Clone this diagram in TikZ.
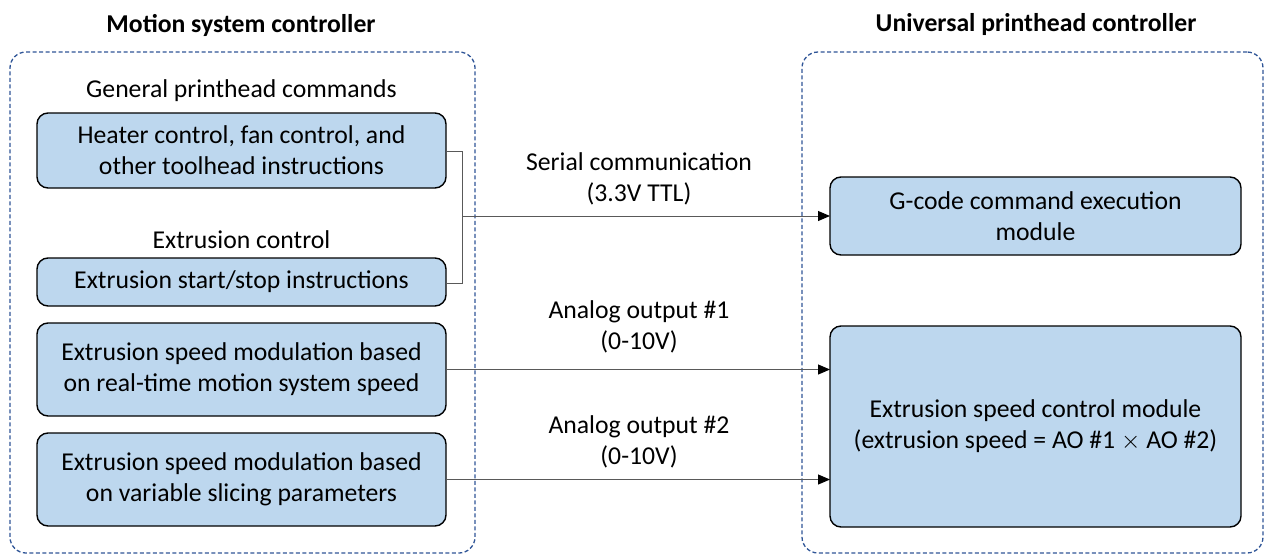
\documentclass[tikz,border=0pt]{standalone}
\usepackage{fontspec}
\setmainfont{Carlito}
\usetikzlibrary{arrows.meta}
\definecolor{boxfill}{HTML}{BDD7EE}
\definecolor{dashblue}{HTML}{2F5597}
\definecolor{linegray}{HTML}{595959}
\tikzset{
  every node/.style={font=\fontsize{25.7}{31}\selectfont, inner sep=0pt, outer sep=0pt},
  blockbox/.style={draw=black, line width=1.4pt, fill=boxfill, rounded corners=11pt, align=center},
  group/.style={draw=dashblue, line width=1.3pt, dash pattern=on 4pt off 2.5pt, rounded corners=16pt},
  conn/.style={draw=linegray, line width=1pt},
  arr/.style={conn, -{Triangle[length=12pt,width=10pt,color=black]}},
  lbl/.style={align=center},
  ttl/.style={font=\fontsize{25.7}{31}\selectfont\bfseries}
}
\begin{document}
\begin{tikzpicture}[x=1pt,y=-1pt]
\useasboundingbox (0,0) rectangle (1265,554);
% groups
\node[group, minimum width=465pt, minimum height=501pt] (msc) at (242.5,302.5) {};
\node[group, minimum width=461pt, minimum height=501pt] (upc) at (1032.5,302.5) {};
\node[ttl] (msct) at (241,25) {Motion system controller};
\node[ttl] (upct) at (1036,25) {Universal printhead controller};
% left blocks
\node[lbl] (genl) at (241.5,91) {General printhead commands};
\node[blockbox, minimum width=409pt, minimum height=75pt] (heat) at (241.5,150.5) {Heater control, fan control, and\\other toolhead instructions};
\node[lbl] (extl) at (241.5,240) {Extrusion control};
\node[blockbox, minimum width=409pt, minimum height=48pt] (ess) at (241.5,282) {Extrusion start/stop instructions};
\node[blockbox, minimum width=409pt, minimum height=93pt] (esm1) at (241.5,369.5) {Extrusion speed modulation based\\on real-time motion system speed};
\node[blockbox, minimum width=409pt, minimum height=93pt] (esm2) at (241.5,479.5) {Extrusion speed modulation based\\on variable slicing parameters};
% right blocks
\node[blockbox, minimum width=411pt, minimum height=78pt] (gcode) at (1035.5,216) {G-code command execution\\module};
\node[blockbox, minimum width=411pt, minimum height=201pt] (escm) at (1035.5,426.5) {Extrusion speed control module\\(extrusion speed = AO \#1 $\times$ AO \#2)};
% connector labels
\node[lbl] (serl) at (639,179) {Serial communication\\(3.3V TTL)};
\node[lbl] (ao1l) at (639,327) {Analog output \#1\\(0-10V)};
\node[lbl] (ao2l) at (639,442) {Analog output \#2\\(0-10V)};
% connectors
\coordinate (bt) at (462,151);
\coordinate (bb) at (462,283);
\coordinate (bm) at (462,216);
\draw[conn] (heat.east |- bt) -- (bt) -- (bb) -- (ess.east |- bb);
\draw[arr] (bm) -- (gcode.west |- bm);
\draw[arr] (esm1.east) -- (escm.west |- esm1.east);
\draw[arr] (esm2.east) -- (escm.west |- esm2.east);
\end{tikzpicture}
\end{document}
